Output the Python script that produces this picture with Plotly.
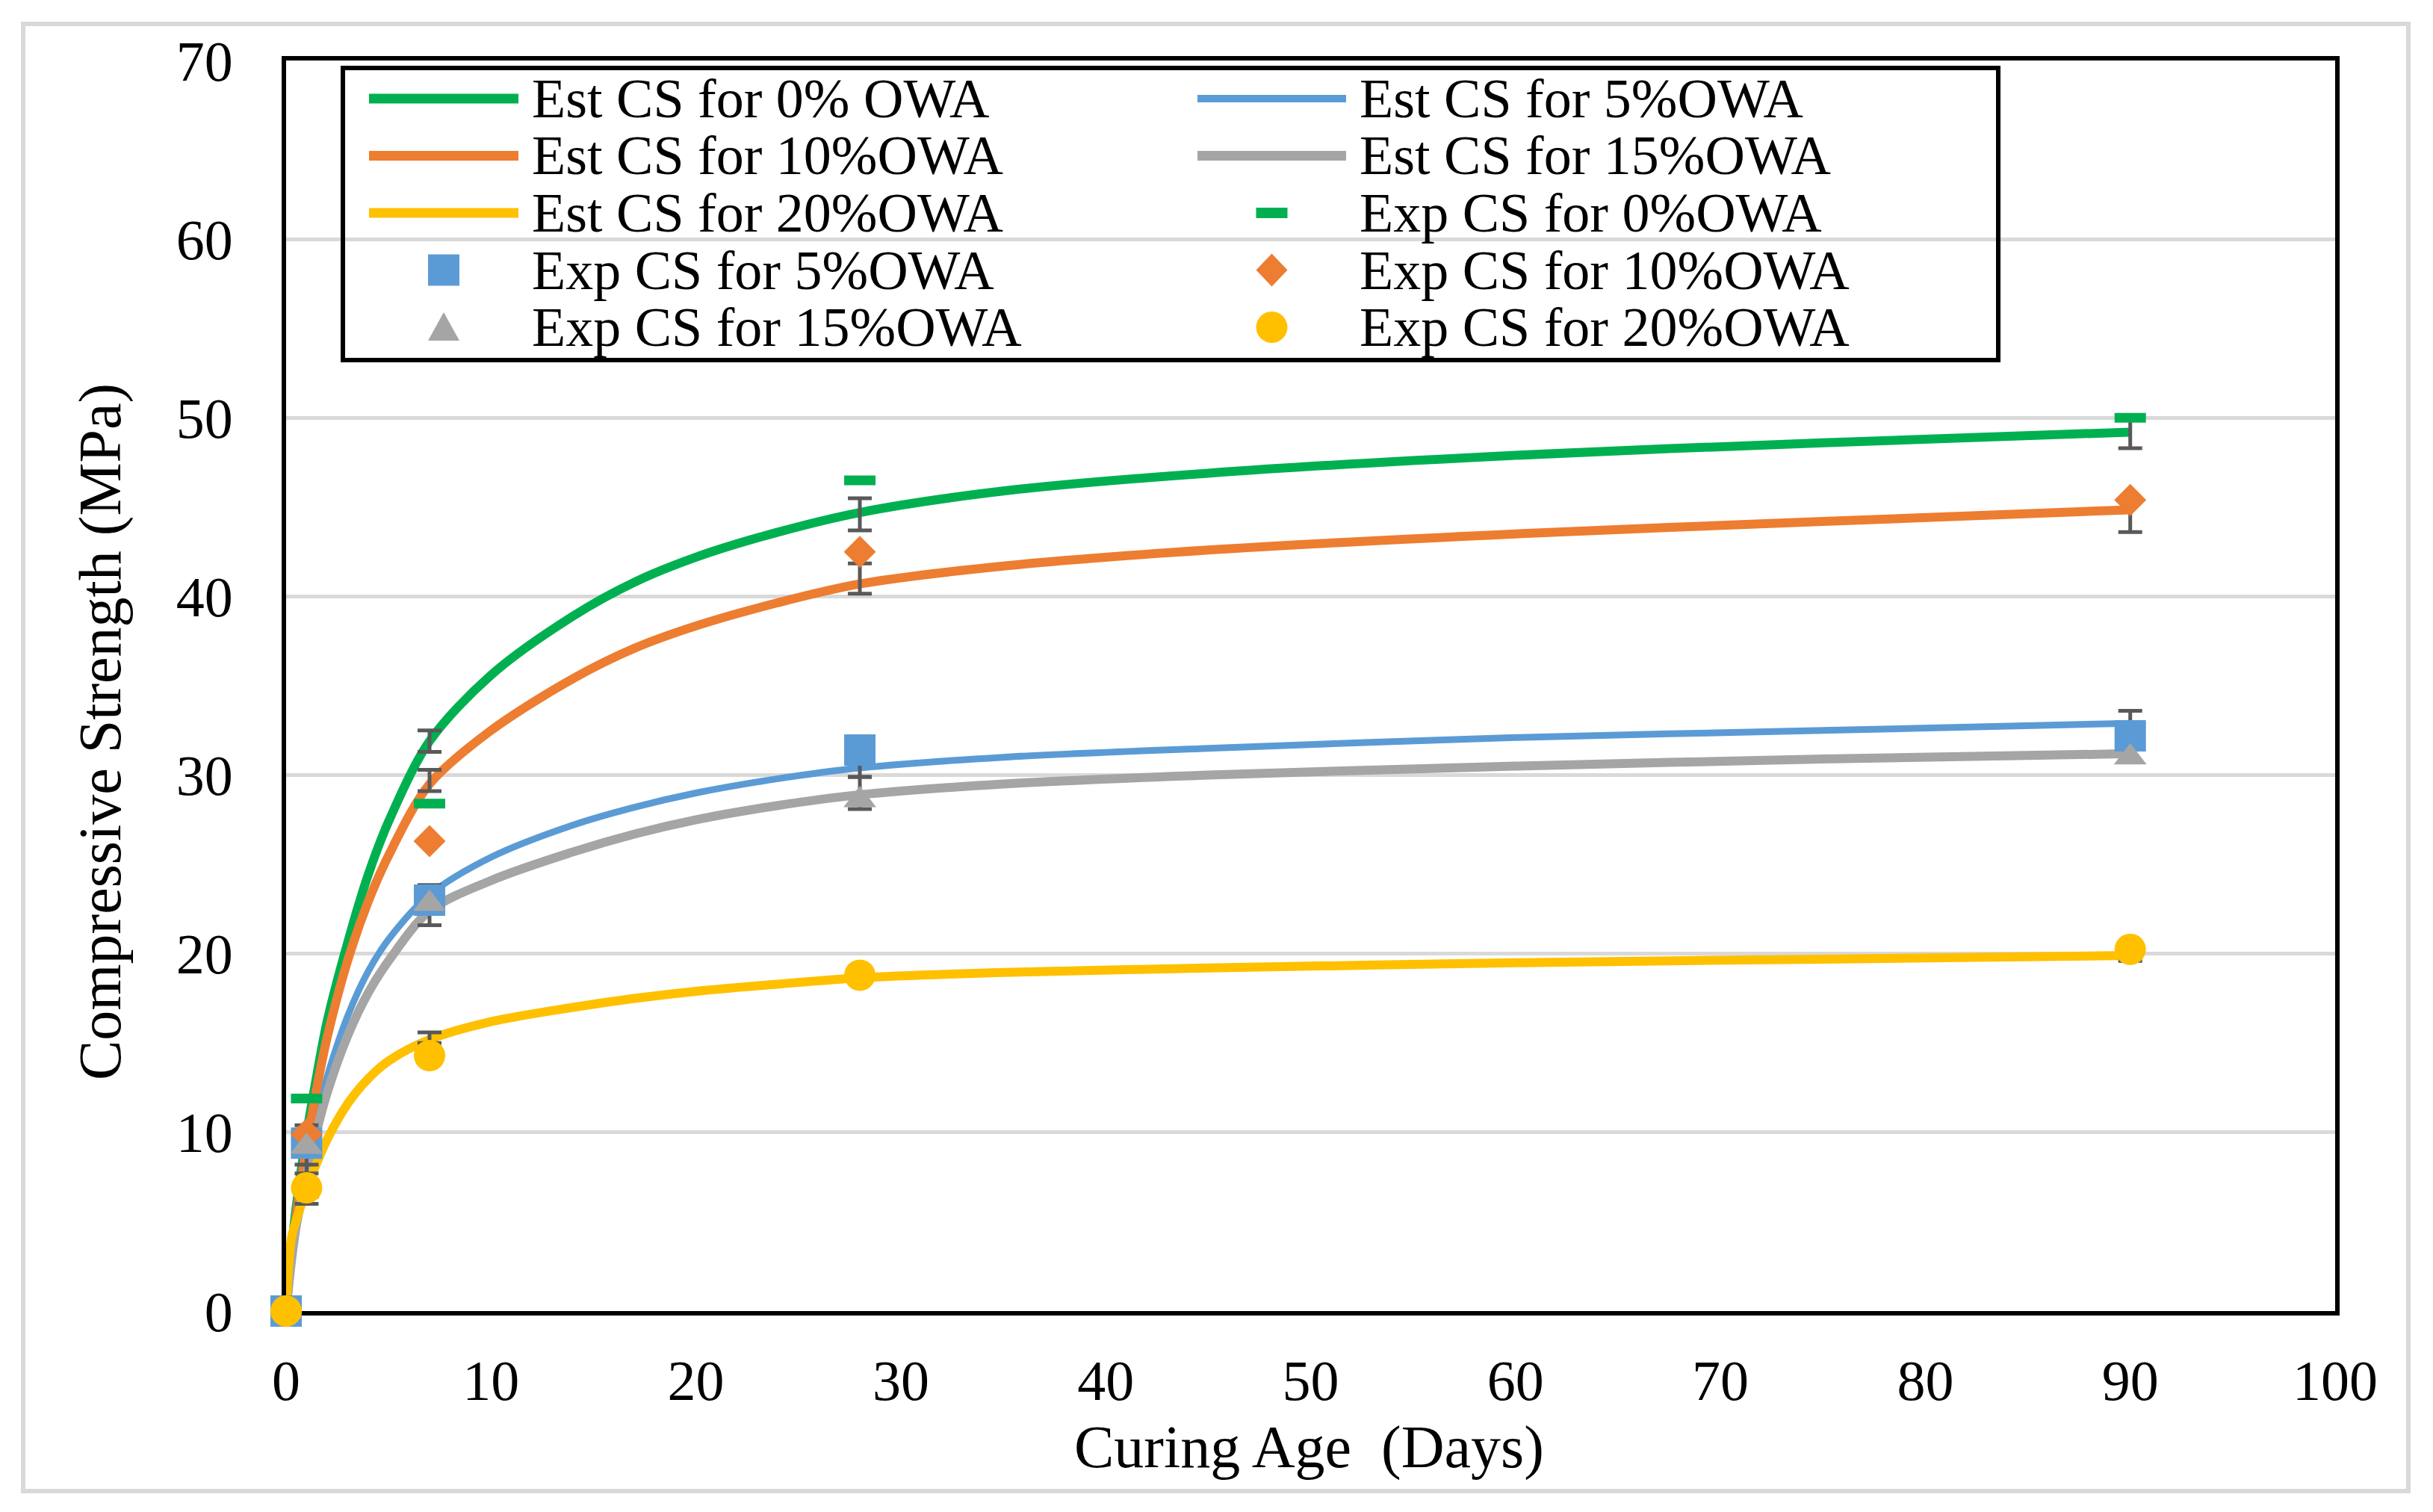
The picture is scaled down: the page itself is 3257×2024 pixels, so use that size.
import plotly.graph_objects as go

# ---------------- data ----------------
T_EST = [0, 0.25, 0.5, 1, 1.5, 2, 3, 4, 5, 7, 10, 14, 17, 20, 24, 28, 35, 45, 60, 75, 90]
EST_0 = [0, 3.3, 5.9, 9.9, 13.2, 16.2, 20.6, 24.4, 27.4, 31.9, 35.6, 38.9, 40.8, 42.2, 43.6, 44.7, 45.9, 46.9, 47.9, 48.6, 49.2]
EST_5 = [0, 2.8, 5.0, 8.2, 10.9, 13.1, 16.5, 19.0, 20.8, 23.3, 25.4, 27.2, 28.2, 29.0, 29.8, 30.4, 31.0, 31.5, 32.1, 32.5, 32.9]
EST_10 = [0, 3.0, 5.4, 9.2, 12.5, 15.3, 19.6, 22.9, 25.5, 29.5, 32.5, 35.4, 37.1, 38.35, 39.65, 40.7, 41.7, 42.6, 43.5, 44.2, 44.85]
EST_15 = [0, 2.7, 4.8, 7.6, 10.1, 12.2, 15.4, 17.8, 19.6, 22.4, 24.1, 25.7, 26.7, 27.5, 28.3, 28.9, 29.5, 30.0, 30.5, 30.9, 31.2]
EST_20 = [0, 4.0, 5.1, 6.8, 8.3, 9.6, 11.6, 13.0, 14.0, 15.2, 16.2, 17.0, 17.5, 17.9, 18.3, 18.65, 18.95, 19.2, 19.5, 19.7, 19.9]

T_EXP = [0, 1, 7, 28, 90]
EXP_0 = [0, 11.9, 28.4, 46.5, 50.0]
EXP_5 = [0, 9.4, 23.0, 31.4, 32.2]
EXP_10 = [0, 9.9, 26.3, 42.5, 45.4]
EXP_15 = [0, 9.2, 22.8, 28.6, 31.0]
EXP_20 = [0, 6.9, 14.3, 18.8, 20.25]

T_ERR = [1, 7, 28, 90]
ERR_MID_0 = [9.9, 31.9, 44.6, 49.15]
ERR_0 = [0.5, 0.6, 0.9, 0.85]
ERR_MID_5 = [8.2, 23.3, 30.6, 32.9]
ERR_5 = [0.5, 0.55, 0.7, 0.7]
ERR_MID_10 = [9.2, 29.7, 41.0, 44.5]
ERR_10 = [0.5, 0.6, 0.85, 0.9]
ERR_MID_15 = [7.1, 22.5, 29.0, 31.2]
ERR_15 = [1.1, 0.9, 0.9, 0.4]
ERR_MID_20 = [6.8, 15.3, 18.65, 19.9]
ERR_20 = [0.4, 0.3, 0.3, 0.3]

X_TICKS = [0, 10, 20, 30, 40, 50, 60, 70, 80, 90, 100]
Y_TICKS = [0, 10, 20, 30, 40, 50, 60, 70]

EST_LABELS = ["Est CS for 0% OWA", "Est CS for 5%OWA", "Est CS for 10%OWA",
              "Est CS for 15%OWA", "Est CS for 20%OWA"]
EXP_LABELS = ["Exp CS for 0%OWA", "Exp CS for 5%OWA", "Exp CS for 10%OWA",
              "Exp CS for 15%OWA", "Exp CS for 20%OWA"]
X_TITLE = "Curing Age\u00a0 (Days)"
Y_TITLE = "Compressive Strength (MPa)"

# ---------------- styles ----------------
GREEN, BLUE, ORANGE, GRAY, YELLOW = "#00B050", "#5B9BD5", "#ED7D31", "#A5A5A5", "#FFC000"
COLORS = [GREEN, BLUE, ORANGE, GRAY, YELLOW]
LINE_W = [12, 9, 12, 12, 12]
FONT = "Liberation Serif, Times New Roman, serif"

W, H = 3257, 2024
OFF = 8  # page body margin of the html page
PL, PR, PT, PB = 383, 3126, 81, 1755


def px_x(p):
    return (p - PL) / (PR - PL)


def px_y(p):
    return (PB - p) / (PB - PT)


est_series = [EST_0, EST_5, EST_10, EST_15, EST_20]
exp_series = [EXP_0, EXP_5, EXP_10, EXP_15, EXP_20]
err_mid = [ERR_MID_0, ERR_MID_5, ERR_MID_10, ERR_MID_15, ERR_MID_20]
err_val = [ERR_0, ERR_5, ERR_10, ERR_15, ERR_20]

fig = go.Figure()

for ys, c, w, name in zip(est_series, COLORS, LINE_W, EST_LABELS):
    fig.add_trace(go.Scatter(x=T_EST, y=ys, mode="lines", name=name,
                             line=dict(color=c, width=w, shape="spline", smoothing=0.9),
                             showlegend=False, cliponaxis=False))

for mids, errs in zip(err_mid, err_val):
    fig.add_trace(go.Scatter(x=T_ERR, y=mids, mode="markers",
                             marker=dict(size=1, color="rgba(0,0,0,0)"),
                             error_y=dict(type="data", array=errs, visible=True,
                                          color="#595959", thickness=5, width=16),
                             showlegend=False, hoverinfo="skip"))

marker_defs = [
    dict(symbol="line-ew", size=30, color=GREEN, line=dict(color=GREEN, width=13)),
    dict(symbol="square", size=42, color=BLUE, line=dict(width=0)),
    dict(symbol="diamond", size=33, color=ORANGE, line=dict(width=0)),
    dict(symbol="triangle-up", size=38, color=GRAY, line=dict(width=0)),
    dict(symbol="circle", size=42, color=YELLOW, line=dict(width=0)),
]
for ys, m, name in zip(exp_series, marker_defs, EXP_LABELS):
    fig.add_trace(go.Scatter(x=T_EXP, y=ys, mode="markers", name=name, marker=m,
                             showlegend=False, cliponaxis=False))

# ---------------- custom legend (box, glyphs, text) ----------------
shapes = []
annotations = []
shapes.append(dict(type="rect", xref="paper", yref="paper",
                   x0=px_x(459), x1=px_x(2675), y0=px_y(482), y1=px_y(91),
                   line=dict(color="black", width=6), fillcolor="rgba(0,0,0,0)"))
ROW_Y = [132, 208.5, 285, 361.5, 438]
COL_LINE = [(494, 694), (1603, 1802)]
COL_TEXT = [710, 1818]

entries = []
for i in range(5):
    entries.append(("line", i, EST_LABELS[i]))
for i in range(5):
    entries.append(("marker", i, EXP_LABELS[i]))

for k, (kind, i, label) in enumerate(entries):
    r, c = divmod(k, 2)
    cy = ROW_Y[r]
    x0, x1 = COL_LINE[c]
    cx = (x0 + x1) / 2
    if kind == "line":
        shapes.append(dict(type="line", xref="paper", yref="paper",
                           x0=px_x(x0), x1=px_x(x1), y0=px_y(cy), y1=px_y(cy),
                           line=dict(color=COLORS[i], width=LINE_W[i] + 1)))
    else:
        base = dict(xref="paper", yref="paper", xsizemode="pixel", ysizemode="pixel",
                    xanchor=px_x(cx), yanchor=px_y(cy), fillcolor=COLORS[i],
                    line=dict(width=0))
        if i == 0:
            s = dict(type="rect", x0=-21, x1=21, y0=-7, y1=7)
        elif i == 1:
            s = dict(type="rect", x0=-21, x1=21, y0=-21, y1=21)
        elif i == 2:
            s = dict(type="path", path="M0,22 L21,0 L0,-22 L-21,0 Z")
        elif i == 3:
            s = dict(type="path", path="M-21,-18 L21,-18 L0,20 Z")
        else:
            s = dict(type="circle", x0=-21, x1=21, y0=-21, y1=21)
        base.update(s)
        shapes.append(base)
    annotations.append(dict(xref="paper", yref="paper", x=px_x(COL_TEXT[c]), y=px_y(cy),
                            xanchor="left", yanchor="middle", text=label, showarrow=False,
                            font=dict(family=FONT, size=74, color="black")))

# outer light-gray frame around the whole chart
shapes.append(dict(type="rect", xref="paper", yref="paper",
                   x0=px_x(31), x1=px_x(3224), y0=px_y(1996), y1=px_y(32),
                   line=dict(color="#d9d9d9", width=6), fillcolor="rgba(0,0,0,0)",
                   layer="below"))

# axis titles
annotations.append(dict(xref="paper", yref="paper", x=px_x(135), y=px_y(980),
                        xanchor="center", yanchor="middle", text=Y_TITLE, textangle=-90,
                        showarrow=False, font=dict(family=FONT, size=80, color="black")))
annotations.append(dict(xref="paper", yref="paper", x=px_x(1752), y=px_y(1937),
                        xanchor="center", yanchor="middle", text=X_TITLE,
                        showarrow=False, font=dict(family=FONT, size=80, color="black")))

fig.update_layout(
    width=W - OFF, height=H - OFF, autosize=False,
    margin=dict(l=PL - OFF, r=W - PR, t=PT - OFF, b=H - PB, pad=0),
    paper_bgcolor="white", plot_bgcolor="white",
    showlegend=False,
    font=dict(family=FONT, color="black"),
    shapes=shapes, annotations=annotations,
    xaxis=dict(range=[0, 100], tickvals=X_TICKS, ticktext=[str(v) for v in X_TICKS],
               showgrid=False, zeroline=False, showline=True, mirror=True,
               linecolor="black", linewidth=6, ticks="", layer="below traces",
               tickfont=dict(family=FONT, size=76, color="black"),
               ticklabelstandoff=22, automargin=False),
    yaxis=dict(range=[0, 70], tickvals=Y_TICKS, ticktext=[str(v) for v in Y_TICKS],
               showgrid=True, gridcolor="#d9d9d9", gridwidth=5, zeroline=False,
               showline=True, mirror=True, linecolor="black", linewidth=6, ticks="",
               layer="below traces",
               tickfont=dict(family=FONT, size=76, color="black"),
               ticklabelstandoff=50, automargin=False),
)

fig.write_html("out.html")
